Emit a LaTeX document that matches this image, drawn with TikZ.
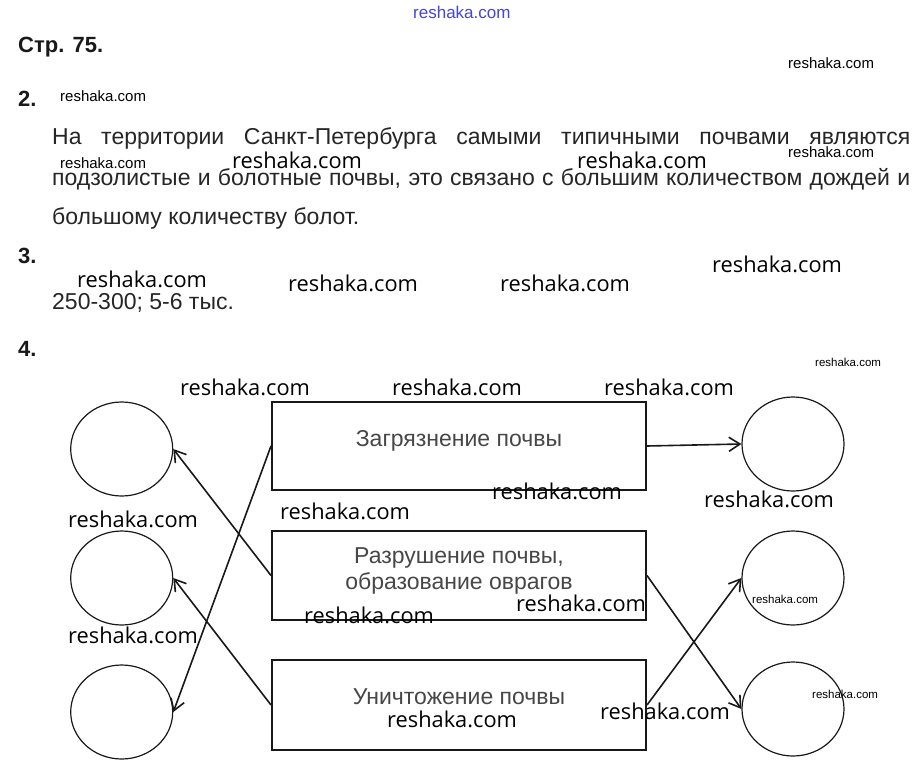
\documentclass[tikz,border=0pt]{standalone}
\usepackage{fontspec}
\setmainfont{Liberation Sans}
\newfontfamily\wmfont{Open Sans}
\usetikzlibrary{arrows.meta,shapes.geometric}
\begin{document}
\begin{tikzpicture}[x=1pt,y=-1pt,
  body/.style={anchor=base west,inner sep=0pt,text=black!85,font=\fontsize{23}{27}\selectfont},
  head/.style={anchor=base west,inner sep=0pt,text=black!90,font=\fontsize{22}{26}\selectfont\bfseries},
  boxnode/.style={draw=black!90,line width=2pt,rectangle,minimum width=374pt,inner sep=0pt},
  circ/.style={draw=black!90,line width=1.2pt,ellipse,minimum width=102pt,minimum height=94pt,inner sep=0pt},
  boxtext/.style={anchor=base,inner sep=0pt,text=black!72,font=\fontsize{23}{27}\selectfont},
  conn/.style={draw=black!90,line width=1.6pt,-{Straight Barb[length=11pt,width=14pt,line width=1.6pt]}},
  wmbig/.style={anchor=west,inner sep=0pt,font=\wmfont\fontsize{21.8}{24}\selectfont},
  wmsmall/.style={anchor=west,inner sep=0pt,font=\fontsize{15}{18}\selectfont},
  wmtiny/.style={anchor=west,inner sep=0pt,font=\fontsize{11.5}{14}\selectfont},
]
\useasboundingbox[fill=white] (0,0) rectangle (924,771);

% headings and text
\node[head] (h1) at (18,52) {Стр. 75.};
\node[head] (h2) at (18,106) {2.};
\node[body] (t1) at (52,144) {\makebox[858pt][s]{На территории Санкт-Петербурга самыми типичными почвами являются}};
\node[body] (t2) at (52,185) {\makebox[858pt][s]{подзолистые и болотные почвы, это связано с большим количеством дождей и}};
\node[body] (t3) at (52,224) {большому количеству болот.};
\node[head] (h3) at (18,263) {3.};
\node[body] (t4) at (52,309) {250-300; 5-6 тыс.};
\node[head] (h4) at (18,356) {4.};

% boxes
\node[boxnode,minimum height=88pt] (b1) at (459,446) {};
\node[boxnode,minimum height=89pt] (b2) at (459,575.5) {};
\node[boxnode,minimum height=90pt] (b3) at (459,705) {};
\node[boxtext] (bt1) at (459,446) {Загрязнение почвы};
\node[boxtext] (bt2a) at (459,563) {Разрушение почвы,};
\node[boxtext] (bt2b) at (459,589) {образование оврагов};
\node[boxtext] (bt3) at (459,704) {Уничтожение почвы};

% circles
\node[circ] (L1) at (121.7,449) {};
\node[circ] (L2) at (121.7,578) {};
\node[circ] (L3) at (121.7,712) {};
\node[circ] (R1) at (793,444) {};
\node[circ] (R2) at (793,578) {};
\node[circ] (R3) at (793,709) {};

% connectors
\draw[conn] (b1.east) -- (R1.west);
\draw[conn] (b2.west) -- (L1.east);
\draw[conn] (b1.west) -- (L3.east);
\draw[conn] (b3.west) -- (L2.east);
\draw[conn] (b2.east) -- (R3.west);
\draw[conn] (b3.east) -- (R2.west);

% watermarks
\node[anchor=west,inner sep=0pt,text={rgb,255:red,70;green,70;blue,210},font=\fontsize{17}{20}\selectfont] (w0) at (413,12) {reshaka.com};
\node[wmsmall] (s1) at (788,63) {reshaka.com};
\node[wmsmall] (s2) at (60,96) {reshaka.com};
\node[wmsmall] (s3) at (60,163) {reshaka.com};
\node[wmsmall] (s4) at (788,152) {reshaka.com};
\node[wmtiny] (s5) at (815,362) {reshaka.com};
\node[wmtiny] (s6) at (752,599) {reshaka.com};
\node[wmtiny] (s7) at (812,694) {reshaka.com};
\node[wmbig] (w1) at (232,160) {reshaka.com};
\node[wmbig] (w2) at (577,160) {reshaka.com};
\node[wmbig] (w3) at (77,279) {reshaka.com};
\node[wmbig] (w4) at (288,283) {reshaka.com};
\node[wmbig] (w5) at (500,283) {reshaka.com};
\node[wmbig] (w6) at (712,264) {reshaka.com};
\node[wmbig] (w7) at (180,387) {reshaka.com};
\node[wmbig] (w8) at (392,387) {reshaka.com};
\node[wmbig] (w9) at (604,387) {reshaka.com};
\node[wmbig] (w10) at (492,491) {reshaka.com};
\node[wmbig] (w11) at (280,511) {reshaka.com};
\node[wmbig] (w12) at (704,499) {reshaka.com};
\node[wmbig] (w13) at (68,519) {reshaka.com};
\node[wmbig] (w14) at (516,603) {reshaka.com};
\node[wmbig] (w15) at (304,615) {reshaka.com};
\node[wmbig] (w16) at (68,635) {reshaka.com};
\node[wmbig] (w17) at (600,711) {reshaka.com};
\node[wmbig] (w18) at (387,719) {reshaka.com};
\end{tikzpicture}
\end{document}
